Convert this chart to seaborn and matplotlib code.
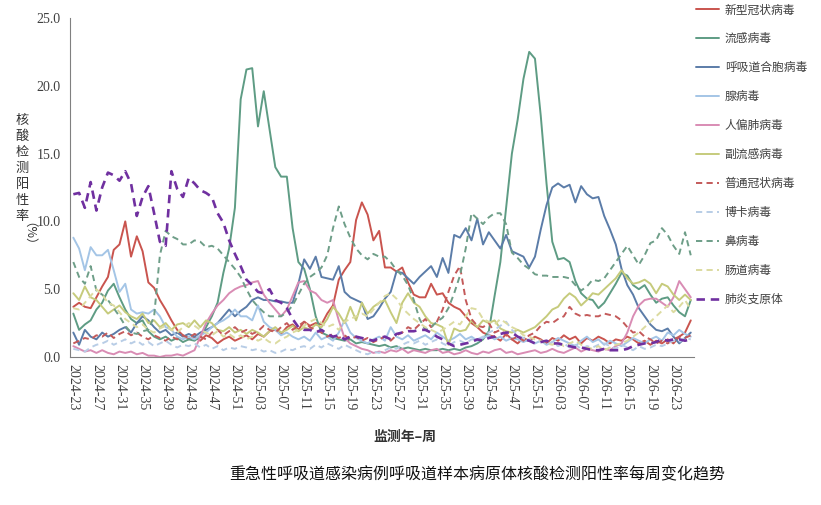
import numpy as np
import pandas as pd
import seaborn as sns
import matplotlib.pyplot as plt

# monitoring weeks: 2024-23 ... 2026-26
weeks = ([f"2024-{w:02d}" for w in range(23, 53)] +
         [f"2025-{w:02d}" for w in range(1, 53)] +
         [f"2026-{w:02d}" for w in range(1, 27)])

names = ["新型冠状病毒", "流感病毒", "呼吸道合胞病毒", "腺病毒", "人偏肺病毒", "副流感病毒",
         "普通冠状病毒", "博卡病毒", "鼻病毒", "肠道病毒", "肺炎支原体"]

covid = [3.7, 4.0, 3.7, 3.6, 4.4, 5.2, 5.9, 7.9, 8.3, 10.0,
         7.4, 8.9, 7.8, 5.5, 5.1, 4.2, 3.5, 2.7, 2.0, 1.6,
         1.3, 1.5, 1.2, 1.6, 1.4, 1.0, 1.3, 1.5, 1.2, 1.4,
         1.6, 1.3, 1.7, 1.5, 1.9, 2.0, 1.7, 2.2, 2.4, 2.0,
         2.6, 2.3, 2.5, 2.4, 3.2, 3.8, 5.7, 6.4, 7.0, 10.1,
         11.4, 10.5, 8.6, 9.3, 6.6, 6.6, 6.3, 6.6, 5.5, 4.6,
         4.4, 4.4, 5.4, 4.6, 4.7, 4.0, 3.7, 3.5, 3.0, 2.5,
         2.2, 1.8, 1.6, 1.5, 1.2, 1.7, 1.3, 1.0, 1.4, 1.2,
         1.5, 1.3, 1.0, 1.4, 1.2, 1.6, 1.3, 1.5, 1.0, 1.4,
         1.2, 1.5, 1.3, 1.0, 1.3, 1.2, 1.5, 1.3, 1.0, 1.2,
         0.9, 1.2, 1.0, 1.3, 1.0, 1.5, 1.8, 2.7]

flu = [3.2, 2.0, 2.4, 2.7, 3.5, 4.0, 4.9, 5.4, 4.4, 3.5,
       2.8, 2.5, 2.7, 1.9, 1.5, 1.3, 1.5, 1.2, 1.4, 1.1,
       1.3, 1.2, 1.5, 2.2, 3.0, 4.0, 6.2, 8.0, 11.0, 19.0,
       21.2, 21.3, 17.0, 19.6, 16.8, 14.0, 13.3, 13.3, 9.5, 7.0,
       6.5, 5.0, 3.0, 1.8, 1.6, 1.4, 1.3, 1.2, 1.3, 1.0,
       1.1, 1.0, 0.9, 0.8, 0.9, 0.7, 0.8, 0.6, 0.7, 0.6,
       0.5, 0.6, 0.5, 0.5, 0.6, 0.5, 0.6, 0.5, 0.7, 0.8,
       1.0, 1.3, 1.9, 4.5, 7.0, 11.0, 15.0, 17.5, 20.5, 22.5,
       22.0, 17.8, 12.8, 8.5, 7.2, 7.3, 7.0, 5.6, 4.7, 4.3,
       4.2, 3.6, 4.0, 4.7, 5.4, 6.2, 6.0, 5.3, 5.0, 5.3,
       4.6, 4.0, 4.3, 4.4, 3.8, 3.3, 3.0, 4.2]

rsv = [1.8, 0.9, 2.0, 1.5, 1.3, 1.8, 1.5, 1.7, 2.0, 2.2,
       1.8, 2.5, 3.0, 2.7, 2.2, 1.8, 2.0, 1.6, 1.8, 1.5,
       1.7, 1.5, 1.8, 2.0, 2.2, 2.5, 3.0, 3.5, 3.0, 3.4,
       3.7, 4.2, 4.4, 4.2, 4.2, 4.1, 4.1, 4.0, 4.0, 5.4,
       7.2, 6.5, 7.4, 5.9, 5.8, 5.7, 6.7, 4.8, 4.4, 4.2,
       4.0, 2.8, 3.0, 3.6, 4.3, 4.8, 6.3, 6.2, 5.8, 5.4,
       5.9, 6.3, 6.7, 5.9, 7.3, 6.2, 9.0, 8.8, 9.5, 8.6,
       10.2, 8.3, 9.2, 8.6, 8.0, 9.0, 7.8, 7.6, 7.4, 6.6,
       7.4, 9.4, 11.2, 12.5, 12.8, 12.5, 12.7, 11.4, 12.6, 12.0,
       11.7, 11.8, 10.4, 9.4, 8.3, 6.5, 5.3, 4.6, 3.6, 3.0,
       2.4, 2.0, 1.9, 2.1, 1.5, 1.0, 1.4, 1.8]

adeno = [8.8, 8.0, 6.4, 8.1, 7.5, 7.5, 7.9, 6.4, 4.8, 5.4,
         3.5, 3.2, 3.3, 3.2, 3.5, 3.0, 2.2, 2.0, 1.5, 1.3,
         1.5, 1.3, 1.6, 1.8, 2.2, 2.5, 2.7, 3.0, 3.5, 3.0,
         3.0, 2.7, 3.8, 2.6, 2.2, 2.0, 1.6, 1.8, 1.5, 1.3,
         1.5, 1.2, 1.8, 1.3, 1.5, 1.2, 1.8, 2.7, 1.8, 1.4,
         1.2, 1.0, 1.3, 1.5, 1.2, 2.2, 1.5, 1.3, 1.6, 1.2,
         1.4, 1.6, 1.3, 1.8, 1.5, 1.2, 1.4, 1.7, 1.3, 1.5,
         1.2, 1.4, 1.6, 1.3, 1.5, 1.2, 1.4, 1.3, 1.1, 1.3,
         1.0, 1.2, 0.9, 1.1, 1.4, 1.2, 1.0, 0.8, 1.2, 1.5,
         1.1, 1.3, 0.9, 1.2, 1.0, 0.8, 1.1, 1.4, 1.2, 1.0,
         1.3, 1.5, 1.2, 1.8, 1.6, 2.0, 1.7, 1.5]

hmpv = [0.8, 0.6, 0.4, 0.5, 0.3, 0.5, 0.3, 0.2, 0.4, 0.3,
        0.4, 0.2, 0.3, 0.1, 0.1, 0.0, 0.1, 0.1, 0.2, 0.1,
        0.3, 0.5, 1.5, 2.5, 3.2, 3.8, 4.2, 4.7, 5.0, 5.2,
        5.3, 5.5, 5.6, 4.6, 4.0, 3.5, 3.0, 3.5, 4.5, 5.5,
        5.6, 4.9, 4.7, 4.2, 4.0, 4.2, 2.7, 1.4, 1.0, 0.8,
        0.6, 0.5, 0.3, 0.4, 0.3, 0.5, 0.4, 0.6, 0.3, 0.5,
        0.4, 0.3, 0.5, 0.6, 0.3, 0.4, 0.2, 0.3, 0.5, 0.3,
        0.2, 0.4, 0.3, 0.5, 0.6, 0.3, 0.4, 0.2, 0.3, 0.4,
        0.5, 0.3, 0.4, 0.6, 0.4, 0.3, 0.5, 0.7, 0.4, 0.6,
        0.5, 0.4, 0.6, 0.5, 0.8, 1.0, 1.8, 3.0, 3.8, 4.2,
        4.3, 4.3, 4.0, 3.7, 4.4, 5.6, 5.0, 4.4]

paraflu = [4.7, 4.2, 5.2, 4.4, 4.2, 3.7, 3.2, 3.5, 3.8, 3.3,
           3.0, 2.8, 3.2, 2.5, 2.7, 2.2, 2.5, 2.0, 2.4, 2.5,
           2.2, 2.7, 2.2, 2.7, 2.5, 2.0, 1.9, 2.2, 1.8, 2.0,
           1.7, 2.0, 1.8, 1.5, 1.9, 2.2, 1.8, 2.0, 2.3, 1.9,
           2.2, 2.0, 2.4, 2.2, 2.8, 3.7, 3.2, 2.5, 3.7, 2.7,
           4.0, 3.2, 3.7, 4.0, 4.2, 3.3, 2.5, 4.0, 4.7, 4.0,
           3.7, 3.0, 2.5, 2.4, 2.2, 0.9, 2.1, 1.9, 2.0, 2.7,
           2.2, 2.7, 2.5, 2.7, 2.1, 1.9, 1.8, 2.0, 1.8, 2.0,
           2.2, 2.6, 3.0, 3.5, 3.7, 4.3, 4.7, 4.4, 3.8, 4.2,
           4.7, 4.6, 5.0, 5.4, 5.8, 6.4, 5.8, 5.4, 5.5, 5.7,
           5.4, 4.7, 5.4, 5.2, 4.6, 4.2, 4.6, 4.2]

hcov = [1.0, 1.2, 1.4, 1.3, 1.6, 1.5, 1.8, 1.4, 1.7, 1.9,
        1.6, 1.8, 1.5, 1.3, 1.6, 1.4, 1.2, 1.5, 1.3, 1.6,
        1.4, 1.7, 1.5, 1.3, 1.8, 2.0, 1.6, 1.9, 2.2, 1.8,
        2.0, 1.7, 1.9, 2.3, 2.0, 1.8, 2.2, 2.5, 2.0, 2.3,
        2.6, 2.2, 2.0, 1.8, 1.5, 1.7, 1.4, 1.6, 1.3, 1.5,
        1.2, 1.4, 1.1, 1.3, 1.5, 1.2, 1.6, 1.8, 2.2, 2.0,
        2.4, 2.8, 2.2, 2.6, 3.5, 4.8, 6.0, 6.7, 4.2, 2.8,
        2.3, 2.2, 2.5, 1.8, 2.0, 1.6, 1.3, 1.5, 1.2, 1.6,
        1.8, 2.3, 2.6, 2.5, 2.8, 3.0, 3.7, 3.2, 3.0, 3.1,
        3.0, 3.0, 3.2, 3.1, 3.0, 2.7, 2.2, 1.8, 1.9, 1.5,
        1.3, 1.0, 1.2, 1.0, 1.3, 1.5, 1.4, 1.6]

boca = [0.6, 0.5, 0.4, 0.7, 0.9, 1.0, 1.2, 0.9, 1.1, 1.3,
        1.0, 1.2, 0.9, 1.1, 0.8, 1.0, 1.2, 0.9, 0.7, 0.9,
        0.8, 1.0, 0.7, 0.9, 0.6, 0.8, 0.5, 0.7, 0.6, 0.8,
        0.7, 0.5, 0.6, 0.4, 0.5, 0.3, 0.4, 0.6, 0.5, 0.7,
        0.8, 0.6, 0.9, 0.7, 1.0, 0.8, 0.6, 0.9, 0.7, 0.5,
        0.3, 0.2, 0.4, 0.3, 0.5, 0.7, 0.6, 0.9, 1.1, 1.0,
        1.2, 0.9, 1.1, 1.3, 1.0, 0.8, 1.1, 1.2, 1.0, 1.3,
        1.3, 1.5, 1.8, 2.0, 2.3, 2.6, 2.0, 1.6, 1.4, 1.2,
        1.0, 1.2, 0.9, 1.1, 0.8, 1.0, 0.7, 0.9, 0.6, 0.8,
        0.7, 0.9, 1.0, 0.8, 0.6, 0.9, 0.7, 0.5, 0.8, 0.6,
        0.7, 0.9, 0.8, 1.0, 1.2, 1.1, 1.4, 1.3]

rhino = [7.0, 5.9, 5.4, 6.7, 4.9, 4.6, 4.2, 3.6, 3.0, 2.3,
         1.8, 1.7, 1.9, 2.0, 3.0, 7.5, 9.3, 8.9, 8.7, 8.3,
         8.3, 8.6, 8.5, 8.1, 8.2, 8.0, 7.5, 7.0, 6.5, 5.9,
         5.0, 4.2, 3.7, 3.3, 3.0, 3.0, 3.0, 3.3, 3.8, 4.6,
         5.4, 5.9, 6.2, 6.6, 7.5, 9.5, 11.1, 9.8, 8.8, 8.0,
         7.5, 7.2, 7.6, 7.4, 7.4, 7.0, 6.4, 6.0, 5.3, 4.2,
         2.8, 2.0, 2.2, 2.6, 2.9, 3.6, 4.7, 6.0, 8.0, 10.6,
         10.2, 9.8, 10.3, 10.6, 10.6, 9.8, 7.7, 7.3, 6.8, 6.5,
         6.1, 6.0, 6.0, 5.9, 5.9, 5.9, 5.8, 5.3, 4.9, 5.2,
         5.7, 5.6, 5.8, 6.4, 7.0, 7.6, 8.2, 7.5, 6.8, 7.5,
         8.4, 8.6, 9.5, 9.0, 8.2, 7.6, 9.2, 7.5]

entero = [3.6, 3.5, 4.0, 4.5, 5.0, 4.6, 4.0, 3.8, 3.3, 2.8,
          2.5, 2.2, 2.4, 2.0, 1.8, 2.1, 2.3, 2.0, 1.8, 2.2,
          2.5, 2.3, 2.0, 1.8, 1.6, 1.9, 1.5, 1.7, 1.4, 1.6,
          1.3, 1.5, 1.2, 1.4, 1.1, 1.0, 1.3, 1.5, 1.8, 2.0,
          2.3, 2.6, 2.8, 2.5, 2.2, 2.4, 2.0, 2.6, 2.8, 3.0,
          3.2, 3.0, 3.5, 4.0, 4.5, 4.7, 4.3, 3.6, 3.2, 2.8,
          2.5, 2.2, 2.0, 1.8, 2.0, 2.3, 2.6, 2.4, 3.0, 3.6,
          3.5, 2.8, 2.6, 2.4, 2.8, 2.5, 2.2, 2.0, 1.6, 1.5,
          1.3, 1.2, 1.0, 0.9, 1.1, 0.8, 1.0, 1.2, 0.9, 0.7,
          0.6, 0.8, 0.5, 0.7, 0.9, 1.0, 1.2, 1.5, 1.8, 2.2,
          2.6, 3.0, 3.4, 3.8, 3.3, 3.7, 4.2, 3.5]

myco = [12.0, 12.1, 11.0, 12.9, 10.8, 12.5, 13.6, 13.4, 13.0, 13.7,
        12.8, 10.4, 11.8, 12.6, 10.6, 8.5, 8.2, 13.7, 12.4, 11.8,
        13.2, 12.8, 12.3, 12.1, 11.8, 10.6, 9.9, 8.6, 7.6, 6.7,
        5.7, 5.3, 4.8, 4.7, 5.0, 4.2, 4.0, 3.6, 2.8, 2.2,
        2.0, 2.0, 1.8, 2.0, 1.7, 1.5, 1.6, 1.3, 1.5, 1.5,
        1.4, 1.3, 1.2, 1.4, 1.5, 1.3, 1.7, 1.8, 1.9, 1.9,
        2.0, 2.0, 1.8, 1.5, 1.3, 1.0, 0.8, 0.9, 1.0, 1.1,
        1.3, 1.2, 1.4, 1.5, 1.7, 1.8, 1.8, 1.5, 1.3, 1.2,
        1.0, 1.1, 1.2, 1.0, 1.0, 0.9, 0.8, 0.7, 0.7, 0.6,
        0.5, 0.5, 0.6, 0.5, 0.5, 0.5, 0.6, 0.8, 0.9, 1.0,
        1.0, 1.1, 1.3, 1.2, 1.3, 1.3, 1.2, 1.3]

series = [covid, flu, rsv, adeno, hmpv, paraflu, hcov, boca, rhino, entero, myco]
colors = ["#C9544E", "#5E9C84", "#5B7CA8", "#A4C5E6", "#D98CB4", "#C6CB7C",
          "#C45A5A", "#B8CDE6", "#6E9E88", "#DCDBA0", "#7030A0"]
dashed = [False] * 6 + [True] * 5

rows = []
for name, vals in zip(names, series):
    for i, v in enumerate(vals):
        rows.append((i, name, v))
df = pd.DataFrame(rows, columns=["idx", "virus", "rate"])

sns.set_theme(style="white")
plt.rcParams['font.family'] = ['Noto Sans CJK SC', 'DejaVu Sans']

fig = plt.figure(figsize=(8.21, 5.05), dpi=100)
ax = fig.add_axes([0.0858, 0.2931, 0.7591, 0.6713])

palette = dict(zip(names, colors))
dash_map = {n: ((3.2, 2.2) if d else "") for n, d in zip(names, dashed)}
sns.lineplot(data=df, x="idx", y="rate", hue="virus", style="virus",
             hue_order=names, style_order=names, palette=palette,
             dashes=dash_map, errorbar=None, legend=False, ax=ax, linewidth=1.4)
for ln, n in zip(ax.lines, names):
    if n == "肺炎支原体":
        ln.set_linewidth(1.9)

ax.set_xlim(-0.5, len(weeks) - 0.5)
ax.set_ylim(0, 25)
ax.set_xticks(range(0, len(weeks), 4))
ax.set_xticklabels(weeks[::4], rotation=270, family="Liberation Serif",
                   fontsize=10, color="#404040")
ax.set_xticks(np.arange(-0.5, len(weeks), 1), minor=True)
ax.set_yticks(np.arange(0, 26, 5))
ax.set_yticklabels([f"{v:.1f}" for v in np.arange(0, 26, 5)],
                   family="Liberation Serif", fontsize=10, color="#404040")
ax.tick_params(axis="x", which="major", length=0, pad=5)
ax.tick_params(axis="x", which="minor", length=4, width=0.8, color="#808080", direction="out")
ax.tick_params(axis="y", length=4, width=0.8, color="#808080", direction="out", pad=3)
ax.set_xlabel("")
ax.set_ylabel("")
sns.despine(ax=ax)
for s in ["left", "bottom"]:
    ax.spines[s].set_color("#808080")
    ax.spines[s].set_linewidth(0.8)

leg = fig.legend(ax.lines, names, loc="upper left", bbox_to_anchor=(694 / 821, 1 - 1 / 505),
                 frameon=False, prop={"family": "Noto Sans CJK SC", "size": 8.5},
                 handlelength=1.9, handletextpad=0.5, labelspacing=1.35,
                 borderaxespad=0, borderpad=0.2)
for t in leg.get_texts():
    t.set_color("#404040")

fig.text(22 / 821, 1 - 168 / 505, "\n".join("核酸检测阳性率"), ha="center", va="center",
         fontsize=9.5, linespacing=1.3, color="#333333")
fig.text(22 / 821, 1 - 240 / 505, "（%）", ha="center", va="center", rotation=270,
         fontsize=9, color="#333333")
fig.text(0.493, 0.135, "监测年–周", ha="center", va="center", fontsize=10,
         fontweight="bold", color="#333333")
fig.text(0.5816, 0.0594, "重急性呼吸道感染病例呼吸道样本病原体核酸检测阳性率每周变化趋势",
         ha="center", va="center", fontsize=11.5, color="#111111")

fig.savefig("out.png", dpi=100)
